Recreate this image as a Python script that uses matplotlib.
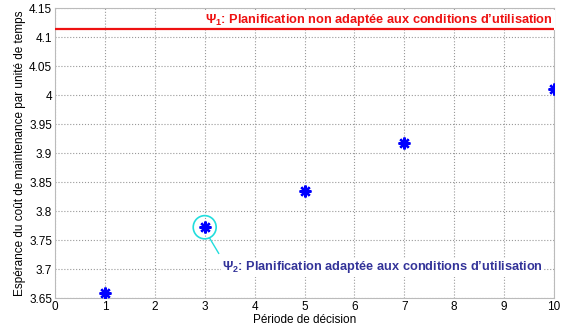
import matplotlib
matplotlib.use("Agg")
import matplotlib.pyplot as plt
from matplotlib.patches import Ellipse

periods = [1, 3, 5, 7, 10]
costs = [3.658, 3.772, 3.835, 3.918, 4.010]
psi1_level = 4.114
xticks = list(range(0, 11))
yticks = [3.65, 3.7, 3.75, 3.8, 3.85, 3.9, 3.95, 4.0, 4.05, 4.1, 4.15]
ytick_labels = ["3.65", "3.7", "3.75", "3.8", "3.85", "3.9", "3.95", "4", "4.05", "4.1", "4.15"]
psi1_text = r"$\mathbf{\Psi_1}$: Planification non adaptée aux conditions d’utilisation"
psi2_text = r"$\mathbf{\Psi_2}$: Planification adaptée aux conditions d’utilisation"

plt.rcParams['font.family'] = ['Liberation Sans', 'DejaVu Sans']
plt.rcParams['mathtext.fontset'] = 'custom'
plt.rcParams['mathtext.rm'] = 'Liberation Serif'
plt.rcParams['mathtext.it'] = 'Liberation Serif'
plt.rcParams['mathtext.bf'] = 'Liberation Sans:bold'

fig = plt.figure(figsize=(5.7, 3.29), dpi=100)
ax = fig.add_axes([55/570, 1-298/329, 499/570, 290/329])

ax.axhline(psi1_level, color='#ee1111', lw=1.6, zorder=6)
ax.plot(periods, costs, linestyle='none', marker=(8, 2, 0), color='#0000ff',
        markersize=8.5, markeredgewidth=1.7, zorder=4)

ax.set_xlim(0, 10)
ax.set_ylim(3.65, 4.15)
ax.set_xticks(xticks)
ax.set_yticks(yticks)
ax.set_yticklabels(ytick_labels)
ax.tick_params(labelsize=8.5, length=0, pad=2)
ax.grid(True, color='#999999', linestyle=':', lw=0.8)
for s in ax.spines.values():
    s.set_color('#bbbbbb')
    s.set_linewidth(0.8)
ax.set_xlabel("Période de décision", fontsize=8.5, labelpad=1)
ax.set_ylabel("Espérance du coût de maintenance par unité de temps", fontsize=8.5, labelpad=2)

ax.text(9.97, 4.1155, psi1_text, color='#ee1111', fontsize=9.2, fontweight='bold',
        ha='right', va='bottom', zorder=5,
        bbox=dict(facecolor='white', edgecolor='none', pad=1.5))

circ = Ellipse((3, 3.772), 0.46, 0.040, fill=False, edgecolor='#22dddd', lw=1.2, zorder=5)
ax.add_patch(circ)
ax.plot([3.10, 3.28], [3.753, 3.727], color='#22dddd', lw=1.0, zorder=5)
ax.text(3.35, 3.703, psi2_text, color='#333399', fontsize=9.2, fontweight='bold',
        ha='left', va='center', zorder=5,
        bbox=dict(facecolor='white', edgecolor='none', pad=1.0))

fig.savefig("out.png", dpi=100)
